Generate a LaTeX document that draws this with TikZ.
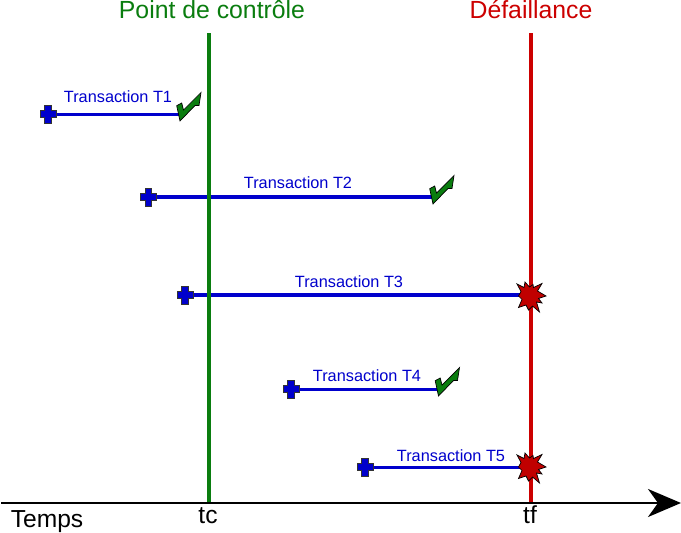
\documentclass[tikz,border=0pt]{standalone}
\usepackage{fontspec}
\setmainfont{Liberation Sans}
\usetikzlibrary{arrows.meta}
\definecolor{tblue}{RGB}{0,0,204}
\definecolor{tgreen}{RGB}{10,125,15}
\definecolor{tred}{RGB}{204,0,0}
\definecolor{tstar}{RGB}{192,0,0}
\tikzset{
  x=1pt,y=-1pt,
  tline/.style={draw=tblue,line width=3pt},
  tlabel/.style={text=tblue,font=\fontsize{16.3}{18}\selectfont,inner sep=0pt,anchor=center},
  head/.style={font=\fontsize{24.8}{27}\selectfont,inner sep=0pt,anchor=base},
  axlabel/.style={text=black,font=\fontsize{24.6}{27}\selectfont,inner sep=0pt,anchor=base},
  startmark/.pic={\filldraw[fill=tblue,draw=black!80,line width=1pt]
    (-3.2,-9)--(3.2,-9)--(3.2,-3.2)--(8,-3.2)--(8,3.2)--(3.2,3.2)--(3.2,9)--(-3.2,9)--(-3.2,3.2)--(-8,3.2)--(-8,-3.2)--(-3.2,-3.2)--cycle;},
  okmark/.pic={\filldraw[fill=tgreen,draw=black,line width=.7pt]
    (-3.3,-15.3)--(1.7,-18)--(3.5,-11)--(21,-28.5)--(19,-15.5)--(15,-15.5)--(0,0)--cycle;},
  failmark/.pic={\filldraw[fill=tstar,draw=black,line width=.7pt]
    (-14,-12)--(-7,-8.5)--(-6,-14)--(-1.5,-9)--(2,-11.5)--(2.5,-8.5)--(11,-12.5)--(6.5,-5)--(15,0)--(7.5,2.5)--(11,7)--(5.5,6)--(8.5,16)--(1.5,10)--(-2.5,14)--(-5,9)--(-12.5,11.5)--(-9,3.5)--(-12.5,0)--(-10,-4.5)--cycle;}
}
\begin{document}
\begin{tikzpicture}
\useasboundingbox (0,0) rectangle (681,533);
% transactions
\coordinate (s1) at (48,114); \coordinate (e1) at (180,114);
\coordinate (s2) at (148.5,197); \coordinate (e2) at (434,197);
\coordinate (s3) at (185,295); \coordinate (e3) at (531,295);
\coordinate (s4) at (291,389); \coordinate (e4) at (440,389);
\coordinate (s5) at (365,467); \coordinate (e5) at (531,467);
\draw[tline] (s1) -- (e1);
\draw[tline,line width=3.4pt] (s2) -- (e2);
\draw[tline,line width=3.8pt] (s3) -- (e3);
\draw[tline] (s4) -- (e4);
\draw[tline] (s5) -- (e5);
% vertical lines
\coordinate (gt) at (209,33); \coordinate (gb) at (209,503);
\coordinate (rt) at (531,33); \coordinate (rb) at (531,503);
\draw[tgreen,line width=4pt] (gt) -- (gb);
\draw[tred,line width=4pt] (rt) -- (rb);
% axis
\coordinate (a0) at (1,503); \coordinate (a1) at (681,503);
\draw[black,line width=2.2pt,-{Stealth[length=33pt,width=28pt,inset=10pt]}] (a0) -- (a1);
% headers
\node[head,text=tgreen] (hc) at (212,18.7) {Point de contrôle};
\node[head,text=tred] (hf) at (531,18.7) {Défaillance};
\node[axlabel] (temps) at (47,527.3) {Temps};
\node[axlabel] (tc) at (208,523.3) {tc};
\node[axlabel] (tf) at (530,523.3) {tf};
\foreach \n in {1,...,5} \pic at (s\n) {startmark};
\pic at (180,121) {okmark};
\pic at (433,204) {okmark};
\pic at (438.5,396) {okmark};
\pic at (531,296) {failmark};
\pic at (531,467) {failmark};
\node[tlabel] (t1) at (118,96.5) {Transaction T1};
\node[tlabel] (t2) at (298,182.5) {Transaction T2};
\node[tlabel] (t3) at (349,281.5) {Transaction T3};
\node[tlabel] (t4) at (367,375.5) {Transaction T4};
\node[tlabel] (t5) at (451,455.5) {Transaction T5};
\end{tikzpicture}
\end{document}
